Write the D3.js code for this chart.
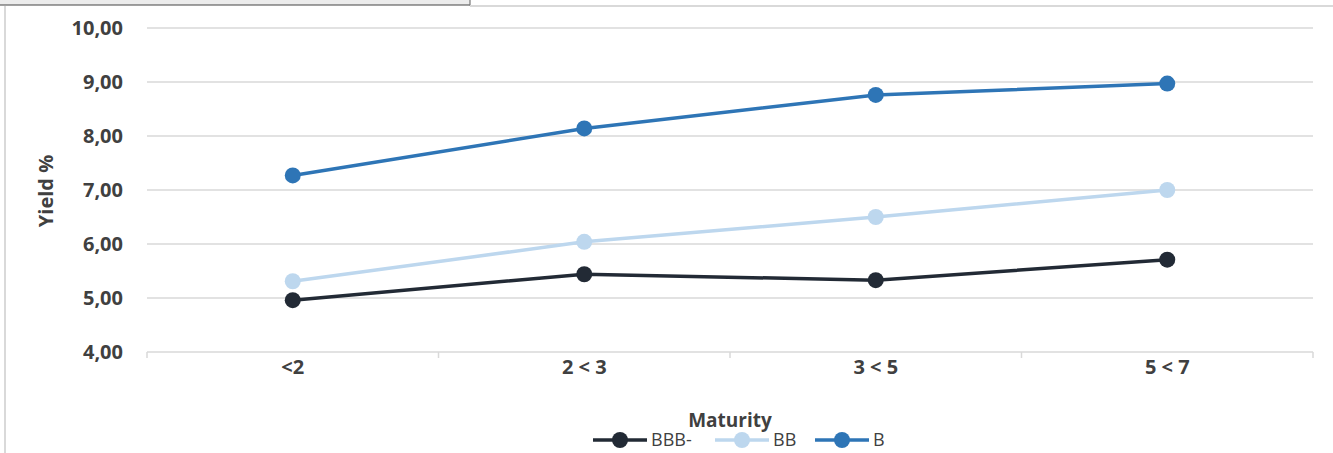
<!DOCTYPE html>
<html>
<head>
<meta charset="utf-8">
<script src="https://cdn.jsdelivr.net/npm/d3@7"></script>
<style>
  body { margin: 0; background: #fff; }
  svg { display: block; font-family: "Open Sans", sans-serif; }
</style>
</head>
<body>
<div id="chart"></div>
<script>
// Yield by maturity bucket, per rating

let categories = ["<2", "2 < 3", "3 < 5", "5 < 7"];
let seriesNames = ["BBB-", "BB", "B"];
let bbbMinus = [4.96, 5.44, 5.33, 5.71];
let bb = [5.31, 6.04, 6.50, 7.00];
let b = [7.27, 8.14, 8.76, 8.97];
let yTicks = [4, 5, 6, 7, 8, 9, 10];

let seriesColors = ["#222a35", "#bdd7ee", "#2e75b6"];
let seriesValues = [bbbMinus, bb, b];

let width = 1333, height = 453;
let margin = {top: 28, right: 20, bottom: 101, left: 147};

let svg = d3.select("#chart").append("svg")
	.attr("width", width)
	.attr("height", height);

// frame bits around the chart (the cropped window edge)
svg.append("rect").attr("x", 0).attr("y", 0).attr("width", 470).attr("height", 5).attr("fill", "#ececec");
svg.append("line").attr("x1", 0).attr("x2", 470).attr("y1", 5).attr("y2", 5).attr("stroke", "#444").attr("stroke-width", 1.2);
svg.append("line").attr("x1", 470).attr("x2", 470).attr("y1", 0).attr("y2", 5.5).attr("stroke", "#777").attr("stroke-width", 1.2);
svg.append("line").attr("x1", 470).attr("x2", width).attr("y1", 6).attr("y2", 6).attr("stroke", "#d9d9d9").attr("stroke-width", 2);
svg.append("line").attr("x1", 5).attr("x2", 5).attr("y1", 6).attr("y2", height).attr("stroke", "#d9d9d9").attr("stroke-width", 2);

// scales
let x = d3.scaleBand()
	.domain(categories)
	.range([margin.left, 1313]);

let y = d3.scaleLinear()
	.domain([4, 10])
	.range([352, margin.top]);

// gridlines
svg.append("g")
	.selectAll("line")
	.data(yTicks.filter(t => t > 4))
	.enter().append("line")
	.attr("x1", margin.left)
	.attr("x2", 1313)
	.attr("y1", d => y(d))
	.attr("y2", d => y(d))
	.attr("stroke", "#d9d9d9")
	.attr("stroke-width", 1.5);

// y axis labels
let yAxis = d3.axisLeft(y)
	.tickValues(yTicks)
	.tickSize(0)
	.tickPadding(24)
	.tickFormat(d => d3.format(".2f")(d).replace(".", ","));

svg.append("g")
	.attr("transform", "translate(" + margin.left + ",0)")
	.call(yAxis)
	.call(g => g.select(".domain").remove())
	.selectAll("text")
	.attr("font-family", "Open Sans, sans-serif")
	.attr("font-size", 20)
	.attr("font-weight", "bold")
	.attr("fill", "#404040");

// x axis with tick marks at band edges
let xAxisG = svg.append("g")
	.attr("transform", "translate(0," + y(4) + ")");

xAxisG.append("line")
	.attr("x1", margin.left)
	.attr("x2", 1313)
	.attr("stroke", "#d9d9d9")
	.attr("stroke-width", 1.5);

let edges = categories.map(c => x(c)).concat([x.range()[1]]);
xAxisG.selectAll(".edge")
	.data(edges)
	.enter().append("line")
	.attr("class", "edge")
	.attr("x1", d => d)
	.attr("x2", d => d)
	.attr("y1", 0)
	.attr("y2", 6)
	.attr("stroke", "#d9d9d9")
	.attr("stroke-width", 1.5);

xAxisG.selectAll(".lbl")
	.data(categories)
	.enter().append("text")
	.attr("class", "lbl")
	.attr("x", d => x(d) + x.bandwidth() / 2)
	.attr("y", 22)
	.attr("text-anchor", "middle")
	.attr("font-size", 20)
	.attr("font-weight", "bold")
	.attr("fill", "#404040")
	.text(d => d);

// axis titles
svg.append("text")
	.attr("transform", "translate(53,191) rotate(-90)")
	.attr("text-anchor", "middle")
	.attr("font-size", 20)
	.attr("font-weight", "bold")
	.attr("fill", "#404040")
	.text("Yield %");

svg.append("text")
	.attr("x", 730)
	.attr("y", 427)
	.attr("text-anchor", "middle")
	.attr("font-size", 19)
	.attr("font-weight", "bold")
	.attr("fill", "#404040")
	.text("Maturity");

// lines and markers
let line = d3.line()
	.x((d, i) => x(categories[i]) + x.bandwidth() / 2)
	.y(d => y(d));

seriesValues.forEach((vals, s) => {
	let g = svg.append("g");
	g.append("path")
		.datum(vals)
		.attr("d", line)
		.attr("fill", "none")
		.attr("stroke", seriesColors[s])
		.attr("stroke-width", 3.5);
	g.selectAll("circle")
		.data(vals)
		.enter().append("circle")
		.attr("cx", (d, i) => x(categories[i]) + x.bandwidth() / 2)
		.attr("cy", d => y(d))
		.attr("r", 8)
		.attr("fill", seriesColors[s]);
});

// legend
let legendX = [593, 715, 815];
let legend = svg.append("g")
	.selectAll("g")
	.data(seriesNames)
	.enter().append("g")
	.attr("transform", (d, i) => "translate(" + legendX[i] + ",440)");

legend.append("line")
	.attr("x1", 0)
	.attr("x2", 54)
	.attr("stroke", (d, i) => seriesColors[i])
	.attr("stroke-width", 3.5);

legend.append("circle")
	.attr("cx", 27)
	.attr("r", 8)
	.attr("fill", (d, i) => seriesColors[i]);

legend.append("text")
	.attr("x", 58)
	.attr("y", 6)
	.attr("font-size", 18)
	.attr("fill", "#404040")
	.text(d => d);
</script>
</body>
</html>
